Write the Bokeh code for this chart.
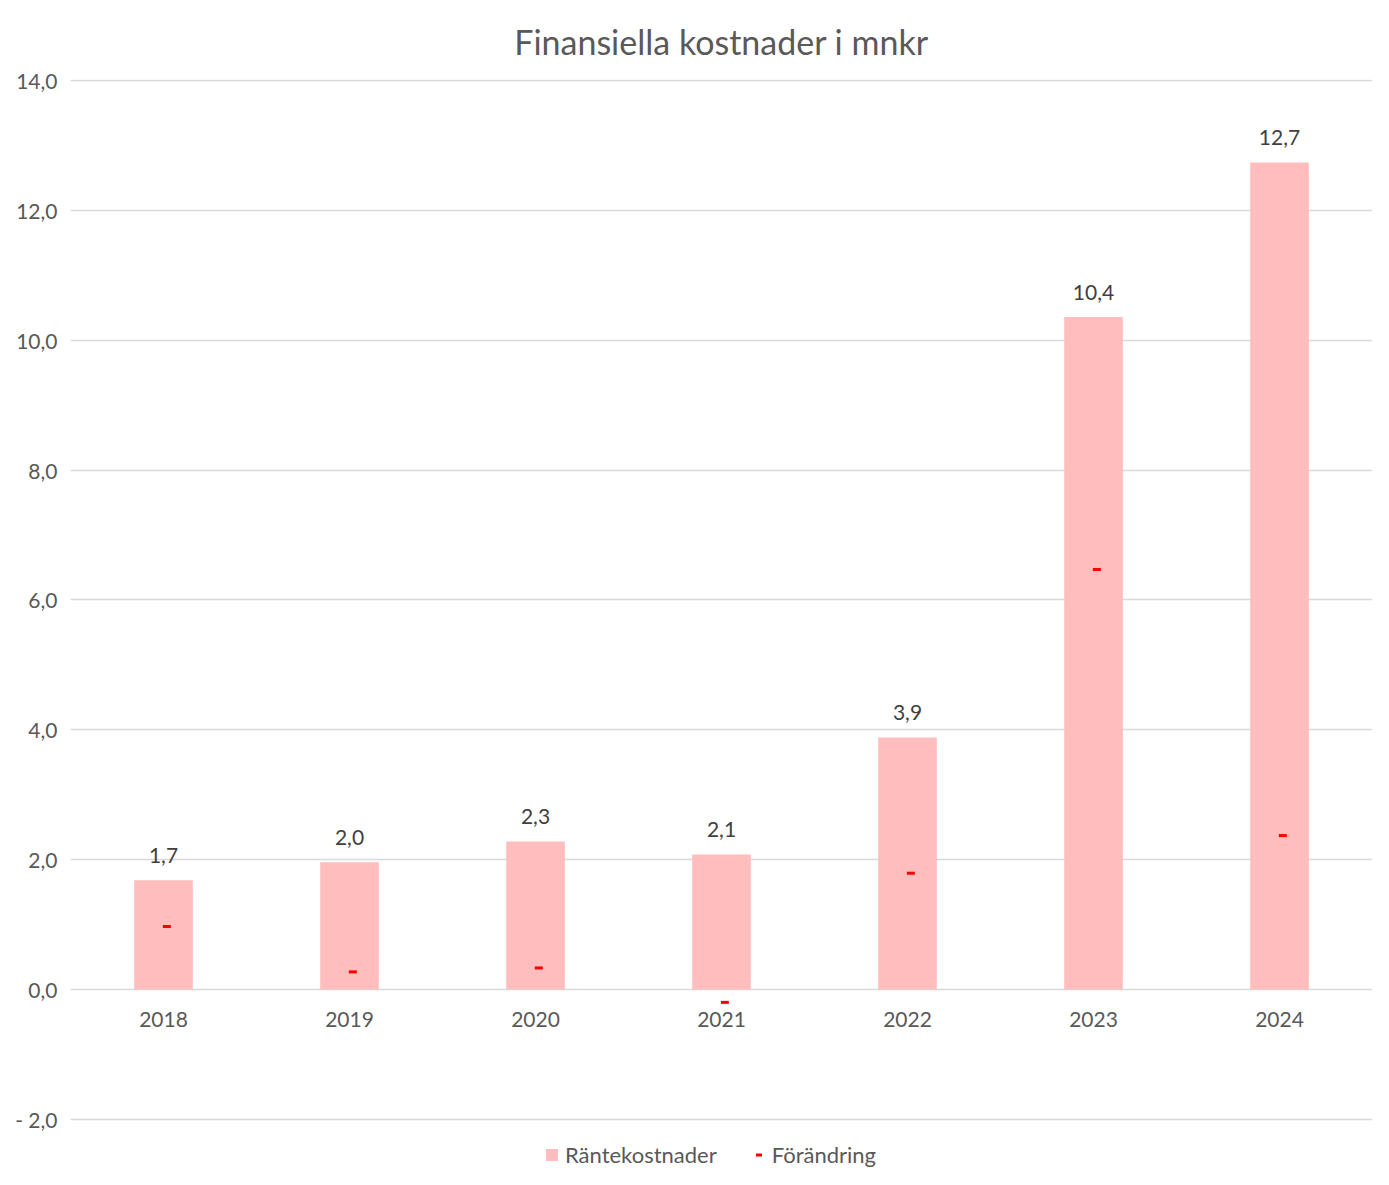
from bokeh.plotting import figure
from bokeh.models import FactorRange, Range1d, CustomJSTickFormatter, Legend, LegendItem, ColumnDataSource, SingleIntervalTicker
from bokeh.transform import dodge
from bokeh.core.properties import value
from bokeh.embed import file_html
from bokeh.resources import INLINE

years = ["2018", "2019", "2020", "2021", "2022", "2023", "2024"]
rantekostnader = [1.68, 1.96, 2.28, 2.08, 3.88, 10.36, 12.74]
forandring = [0.97, 0.27, 0.33, -0.20, 1.79, 6.47, 2.37]
value_labels = [f"{v:.1f}".replace(".", ",") for v in rantekostnader]
y_min, y_max = -2, 14

FONT = "Lato"
src = ColumnDataSource(dict(x=years, bar=rantekostnader, chg=forandring, lbl=value_labels,
                            base=[0] * len(years)))

# frame extends below -2 to leave room for the legend inside the plot area
p = figure(
    x_range=FactorRange(*years, range_padding=0),
    y_range=Range1d(y_min - 0.76, y_max + 0.02),
    width=1372, height=1168,
    output_backend="svg", toolbar_location=None,
    min_border_left=70, min_border_right=0, min_border_top=72, min_border_bottom=0,
)
p.outline_line_color = None
p.background_fill_color = "white"
p.border_fill_color = "white"

p.title.text = "Finansiella kostnader i mnkr"
p.title.align = "center"
p.title.text_font = FONT
p.title.text_font_size = "34px"
p.title.text_font_style = "normal"
p.title.text_color = "#595959"
p.title.text_line_height = 0.6
p.title.standoff = 36

bars = p.vbar(x="x", top="bar", width=0.315, source=src, fill_color="#FFBDBD", line_color=None)
marks = p.scatter(x=dodge("x", 0.018, range=p.x_range), y="chg", source=src, marker="dash",
                  size=8, line_color="#FF0000", line_width=3)

p.text(x="x", y="bar", text="lbl", source=src, text_align="center", text_baseline="alphabetic",
       y_offset=-25, text_font_size="21px", text_color="#404040", text_font=value(FONT))

# category labels on the zero line
p.text(x="x", y="base", text="x", source=src, text_align="center", text_baseline="top",
       y_offset=23, text_font_size="21px", text_color="#595959", text_font=value(FONT))

p.xgrid.grid_line_color = None
p.ygrid.grid_line_color = "#D9D9D9"
p.ygrid.grid_line_width = 1.5

p.xaxis.visible = False

p.yaxis.ticker = SingleIntervalTicker(interval=2)
p.yaxis.formatter = CustomJSTickFormatter(code="""
const s = Math.abs(tick).toFixed(1).replace('.', ',');
return tick < 0 ? '- ' + s : s;
""")
ax = p.yaxis[0]
ax.axis_line_color = None
ax.major_tick_line_color = None
ax.minor_tick_line_color = None
ax.major_tick_out = 0
ax.major_tick_in = 0
ax.minor_tick_out = 0
ax.major_label_text_font = FONT
ax.major_label_text_font_size = "21px"
ax.major_label_text_color = "#595959"
ax.major_label_standoff = 13

legend = Legend(items=[LegendItem(label="Räntekostnader", renderers=[bars]),
                       LegendItem(label="Förändring", renderers=[marks])],
                orientation="horizontal", location=(474, 0),
                label_text_font=FONT, label_text_font_size="22px", label_text_color="#595959",
                glyph_width=15, glyph_height=15, spacing=34, padding=0, margin=0,
                border_line_color=None, background_fill_alpha=0, label_standoff=6)
p.add_layout(legend, "center")

open("out.html", "w").write(file_html(p, INLINE))
